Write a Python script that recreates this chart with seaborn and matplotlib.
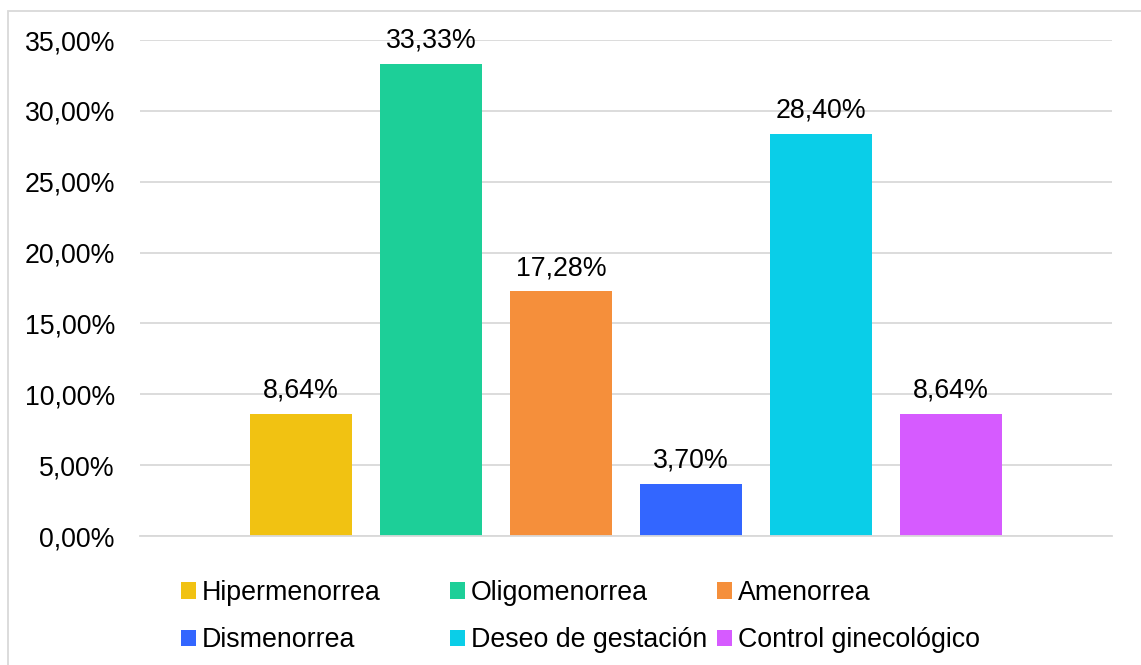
import matplotlib
matplotlib.use("Agg")
import matplotlib.pyplot as plt
from matplotlib.patches import Patch, Rectangle
from matplotlib.ticker import FuncFormatter, MultipleLocator
import pandas as pd
import seaborn as sns

# Motivos de consulta (porcentaje de pacientes)
categorias = ["Hipermenorrea", "Oligomenorrea", "Amenorrea",
              "Dismenorrea", "Deseo de gestación", "Control ginecológico"]
porcentajes = [8.64, 33.33, 17.28, 3.70, 28.40, 8.64]
colores = ["#F1C212", "#1DCF98", "#F58F3B", "#3366FF", "#0ACEE8", "#D65BFF"]

df = pd.DataFrame({"categoria": categorias, "valor": porcentajes})

sns.set_theme(style="white")
plt.rcParams["font.family"] = ["Liberation Sans", "DejaVu Sans"]
FS = 19.3

W, H = 1141, 665
fig = plt.figure(figsize=(W / 100, H / 100), dpi=100)
ax = fig.add_axes([140 / W, 1 - 536 / H, (1112 - 140) / W, (536 - 40) / H])

sns.barplot(data=df, x="categoria", y="valor", hue="categoria",
            palette=colores, width=0.79, linewidth=0, legend=False,
            saturation=1, ax=ax)

def pct(v):
    return f"{v:.2f}%".replace(".", ",")

for cont, v in zip(ax.containers, porcentajes):
    ax.bar_label(cont, labels=[pct(v)], padding=7, fontsize=FS, color="#000000")

ax.set_ylim(0, 35)
ax.set_xlim(-1.24, 6.24)
ax.yaxis.set_major_locator(MultipleLocator(5))
ax.yaxis.set_major_formatter(FuncFormatter(lambda v, _: pct(v)))
ax.set_xticks([])
ax.set_xlabel("")
ax.set_ylabel("")
ax.tick_params(axis="y", length=0, pad=18, labelsize=FS, labelcolor="#000000")
ax.grid(axis="y", color="#D9D9D9", linewidth=1.3)
ax.set_axisbelow(True)
for s in ["top", "right", "left"]:
    ax.spines[s].set_visible(False)
ax.spines["bottom"].set_color("#D9D9D9")
ax.spines["bottom"].set_linewidth(1.3)

# Leyenda en tres columnas de dos filas
columnas = [[0, 3], [1, 4], [2, 5]]
x_col = [181, 450, 717]
for xc, idx in zip(x_col, columnas):
    handles = [Patch(facecolor=colores[i], edgecolor="none") for i in idx]
    labels = [categorias[i] for i in idx]
    fig.legend(handles, labels, loc="upper left",
               bbox_to_anchor=(xc / W, 1 - 580 / H), frameon=False,
               borderaxespad=0, borderpad=0, fontsize=FS,
               labelcolor="#000000",
               handlelength=0.55, handleheight=0.55, handletextpad=0.22,
               labelspacing=0.8)

# Marco del gráfico
fig.patches.append(Rectangle((8 / W, -0.1), 1.2, 1.1 - 11 / H,
                             transform=fig.transFigure, fill=False,
                             edgecolor="#D9D9D9", linewidth=1.3))

fig.savefig("out.png", dpi=100, facecolor="white")
